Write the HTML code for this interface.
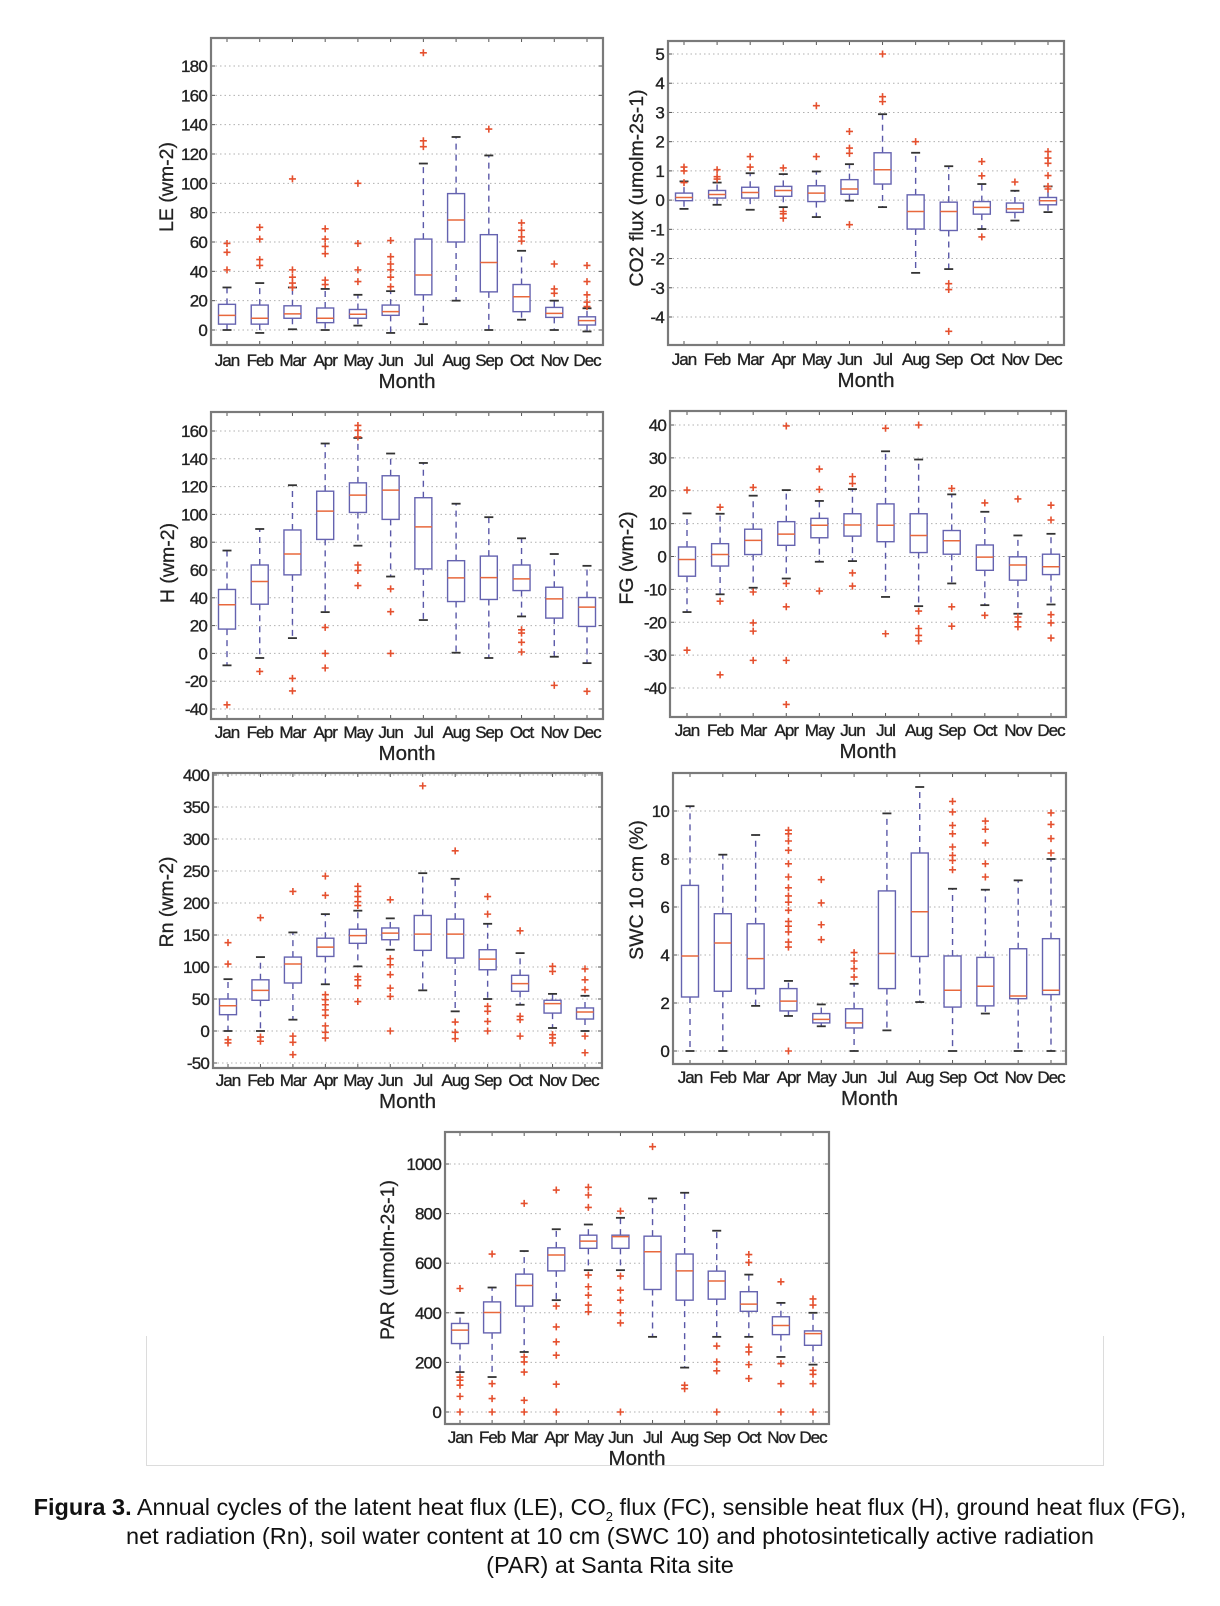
<!DOCTYPE html>
<html><head><meta charset="utf-8">
<style>
html,body{margin:0;padding:0;background:#fff;}
body{width:1220px;height:1606px;position:relative;overflow:hidden;font-family:"Liberation Sans",Arial,sans-serif;}
#fig{position:absolute;left:0;top:0;}
.caption{position:absolute;left:0;width:1220px;text-align:center;font-size:23.5px;color:#111;line-height:29px;top:1493px;white-space:nowrap;}
.caption sub{font-size:13px;line-height:0;vertical-align:0;position:relative;top:6px;}
</style></head>
<body>
<svg id="fig" width="1220" height="1606" xmlns="http://www.w3.org/2000/svg">
  <path d="M146.5 1336 V1465.5 H1103.5 V1336" fill="none" stroke="#dcdcdc" stroke-width="1"/>
</svg>
<div class="caption"><b>Figura 3.</b> Annual cycles of the latent heat flux (LE), CO<sub>2</sub> flux (FC), sensible heat flux (H), ground heat flux (FG),<br>net radiation (Rn), soil water content at 10 cm (SWC 10) and photosintetically active radiation<br>(PAR) at Santa Rita site</div>
<script>
const months=["Jan","Feb","Mar","Apr","May","Jun","Jul","Aug","Sep","Oct","Nov","Dec"];

// LE
const leLow=[0,-2,0.5,0,3,-2,4,20,0,7,0,-1];
const leQ1=[4,4,8,5,8,10,24,60,26,12.5,8.6,3.4];
const leMed=[10,8,11,8,10.7,12.5,37.5,75,46,22.7,11.3,6.4];
const leQ3=[17.5,17,16.5,15,14,17,62,93,65,31,15.4,9];
const leHigh=[29,32,29,28,24,26.5,113.5,131.6,119,54,20,14.8];
const leOut=[[59,53,41],[70,62,48,44],[103,41,36,32,29],[69,62,57,52,34,31],[100,59,41,33],[61,50,45,41,36,29.5],[189,129,125],[],[137],[73,68,63.5,60.6],[45,28,25],[44,33,24,19,16]];
const leTicks=[0,20,40,60,80,100,120,140,160,180];

// CO2
const coLow=[-0.3,-0.16,-0.33,-0.24,-0.58,-0.02,-0.24,-2.49,-2.36,-0.99,-0.7,-0.41];
const coQ1=[-0.02,0.07,0.07,0.13,-0.05,0.2,0.55,-0.99,-1.04,-0.48,-0.42,-0.16];
const coMed=[0.09,0.19,0.26,0.33,0.24,0.38,1.04,-0.39,-0.39,-0.25,-0.3,-0.02];
const coQ3=[0.24,0.33,0.44,0.47,0.49,0.7,1.62,0.18,-0.07,-0.05,-0.1,0.09];
const coHigh=[0.64,0.6,0.92,0.89,0.98,1.23,2.94,1.62,1.16,0.55,0.32,0.47];
const coOut=[[1.13,1.0,0.6],[1.04,0.8,0.72],[1.49,1.13],[1.1,-0.39,-0.47,-0.62],[3.23,1.49],[2.35,1.78,1.6,-0.84],[5.0,3.54,3.37],[2.0],[-2.86,-3.06,-4.49],[1.32,0.83,-1.26],[0.62],[1.66,1.44,1.26,0.84,0.47,0.38]];
const coTicks=[-4,-3,-2,-1,0,1,2,3,4,5];

// H
const hLow=[-8.6,-3.3,11,29.7,77.5,55.3,24,0.5,-3.3,26.6,-2.4,-7];
const hQ1=[17.5,35.4,56.5,82,101.4,96.4,60.8,37.3,38.8,45.2,25.4,19.4];
const hMed=[35,51.7,71.5,102.4,113.9,117.5,91,54.3,54.5,53.6,39.2,33.3];
const hQ3=[46,63.6,88.8,116.7,122.7,127.8,112,66.7,70,63.6,47.6,40.2];
const hHigh=[74,89.5,121,151,155,143.8,137,107.7,98,82.8,71.5,63];
const hOut=[[-37],[-13],[-18,-27],[18.7,0,-10.5],[164,160.5,155.7,63.6,59.6,48.8],[46.4,30,0],[],[],[],[17,14.6,8,1],[-23],[-27.3]];
const hTicks=[-40,-20,0,20,40,60,80,100,120,140,160];

// FG
const fgLow=[-16.9,-11.5,-9.5,-6.7,-1.6,-1.4,-12.3,-15.1,-8.2,-14.8,-17.4,-14.6];
const fgQ1=[-6,-2.9,0.6,3.4,5.7,6.2,4.5,1.2,0.7,-4.2,-7.2,-5.5];
const fgMed=[-0.9,0.6,4.9,6.8,9.5,9.6,9.5,6.4,4.8,-0.2,-2.6,-3.1];
const fgQ3=[2.9,3.9,8.3,10.6,11.6,13,16,13,7.9,3.5,-0.1,0.7];
const fgHigh=[13.1,13,18.5,20.2,16.9,20.5,32,29.5,18.9,13.6,6.4,6.9];
const fgOut=[[20.2,-28.5],[15,-13.6,-36],[21,-10.8,-20.2,-22.7,-31.6],[39.7,-8.2,-15.3,-31.6,-45],[26.6,20.4,-10.5],[24.3,22.2,-5,-9],[39,-23.5],[40,-16.6,-21.9,-24,-25.7],[20.7,-15.3,-21.2],[16.3,-17.9],[17.5,-18.4,-19.9,-21.4],[15.6,11.1,-17.7,-20.2,-24.8]];
const fgTicks=[-40,-30,-20,-10,0,10,20,30,40];

// Rn
const rnLow=[0,0,17.7,73,101,127,63.5,30.7,50,41,4.7,0];
const rnQ1=[25.5,48,75,116.5,137,142.6,126,114,95.7,62,28,18.7];
const rnMed=[39.5,63.5,104.6,131,149,153,151.4,151.4,112.4,74,42.7,29.7];
const rnQ3=[50,80,115.5,145,159,161,180.5,174.8,127,87,48,36];
const rnHigh=[81,115.5,154,182.6,188,176,246.6,237.8,167.5,121.7,58,55];
const rnOut=[[138,104.6,-13.5,-18.7],[177,-9.4,-16],[218,-8,-17.7,-37],[242,212,56.7,49,41,33,24.5,8,-2,-11],[226,218,210,202,196,85,80,70.8,46],[205,113,103.5,88,67,54,0],[383],[281.5,14,-2,-12],[210,182.6,38.5,30.7,15,0],[156.6,23,17.7,-8],[101,93,-5.7,-11,-18.7],[97,80,64.5,-8,-34]];
const rnTicks=[-50,0,50,100,150,200,250,300,350,400];

// SWC
const swLow=[0,0,1.88,1.46,1.03,0,0.86,2.04,0,1.56,0,0];
const swQ1=[2.25,2.49,2.6,1.67,1.17,0.96,2.6,3.94,1.83,1.88,2.18,2.35];
const swMed=[3.96,4.5,3.85,2.08,1.32,1.17,4.06,5.8,2.53,2.7,2.29,2.53];
const swQ3=[6.9,5.72,5.3,2.6,1.56,1.76,6.67,8.25,3.96,3.9,4.26,4.68];
const swHigh=[10.2,8.18,9.0,2.92,1.94,2.8,9.9,11,6.76,6.72,7.11,8.0];
const swOut=[[],[],[],[9.2,9.05,8.75,8.36,7.8,7.25,6.8,6.46,6.2,5.86,5.4,5.2,4.96,4.54,4.33,0],[7.14,6.17,5.26,4.64],[4.1,3.75,3.43,3.08],[],[],[10.4,9.96,9.4,9.05,8.5,8.15,7.94,7.55],[9.58,9.24,8.67,7.8,7.25],[],[9.92,9.44,8.85,8.25]];
const swTicks=[0,2,4,6,8,10];

// PAR
const parLow=[161,141,242,451,572,572,303,179,303,303,222,191];
const parQ1=[276,319,427,569,660,660,494,451,455,406,312,269];
const parMed=[330,401,510,633,689,707,646,569,528,435,349,316];
const parQ3=[357,444,556,662,713,713,709,637,568,485,384,327];
const parHigh=[400,502,649,737,756,783,861,884,731,554,440,400];
const parOut=[[498,141,128,108,63,0],[637,114,54,0],[841,222,202,161,47,0],[895,427,343,283,229,112,0],[906,875,825,552,505,471,431,404],[810,548,491,451,400,359,0],[1070],[108,94],[266,202,166,0],[635,603,262,242,191,135],[525,195,114,0],[456,431,168,152,114,0]];
const parTicks=[0,200,400,600,800,1000];

const NS="http://www.w3.org/2000/svg";
const svg=document.getElementById("fig");
function mk(tag,attrs,parent){const e=document.createElementNS(NS,tag);for(const k in attrs)e.setAttribute(k,attrs[k]);(parent||svg).appendChild(e);return e;}
const FONT="Liberation Sans, Arial, sans-serif";

function drawPanel(c){
  const g=mk("g",{});
  
  
  const yS=v=>c.pA+(v-c.vA)*(c.pB-c.pA)/(c.vB-c.vA);
  const xS=i=>c.jan+i*(c.dec-c.jan)/11;
  c.ticks.forEach(t=>{
    const y=yS(t);
    const gl=mk("line",{x1:c.x1,x2:c.x2,y1:y,y2:y,stroke:"#b0b0b0","stroke-width":1,"stroke-dasharray":"1.5,3"},g);
    
    
    const tl=mk("text",{x:c.x1-4,y:y+6,"text-anchor":"end","font-size":17,fill:"#222",stroke:"#222","stroke-width":0.35,"font-family":FONT,"letter-spacing":"-0.8"},g);
    tl.textContent=t;
    
    
    mk("line",{x1:c.x1,x2:c.x1+4,y1:y,y2:y,stroke:"#555","stroke-width":1},g);
    mk("line",{x1:c.x2-4,x2:c.x2,y1:y,y2:y,stroke:"#555","stroke-width":1},g);
  });
  months.forEach((m,i)=>{
    const x=xS(i);
    mk("line",{x1:x,x2:x,y1:c.y2,y2:c.y2-4,stroke:"#555","stroke-width":1},g);
    mk("line",{x1:x,x2:x,y1:c.y1,y2:c.y1+4,stroke:"#555","stroke-width":1},g);
    const ml=mk("text",{x:x,y:c.tlY,"text-anchor":"middle","font-size":17,fill:"#222",stroke:"#222","stroke-width":0.35,"font-family":FONT,"letter-spacing":"-1"},g);
    ml.textContent=m;
    
    
  });
  const hw=8.5;
  for(let i=0;i<12;i++){
    const x=xS(i);
    const bg=mk("g",{},g);
    
    
    const yl=yS(c.lo[i]),y1=yS(c.q1[i]),ym=yS(c.med[i]),y3=yS(c.q3[i]),yh=yS(c.hi[i]);
    mk("line",{x1:x,x2:x,y1:y3,y2:yh,stroke:"#5a58a8","stroke-width":1.4,"stroke-dasharray":"6,5"},bg);
    mk("line",{x1:x,x2:x,y1:y1,y2:yl,stroke:"#5a58a8","stroke-width":1.4,"stroke-dasharray":"6,5"},bg);
    mk("line",{x1:x-4.5,x2:x+4.5,y1:yh,y2:yh,stroke:"#333","stroke-width":1.8},bg);
    mk("line",{x1:x-4.5,x2:x+4.5,y1:yl,y2:yl,stroke:"#333","stroke-width":1.8},bg);
    mk("rect",{x:x-hw,y:y3,width:2*hw,height:Math.max(1,y1-y3),fill:"#fff",stroke:"#6563b0","stroke-width":1.4},bg);
    mk("line",{x1:x-hw,x2:x+hw,y1:ym,y2:ym,stroke:"#e8683c","stroke-width":1.5},bg);
    c.out[i].forEach(v=>{
      const y=yS(v);
      const o=mk("path",{d:`M${x-3.5} ${y}H${x+3.5}M${x} ${y-3.5}V${y+3.5}`,stroke:"#e5502e","stroke-width":1.6,fill:"none"},bg);
      
      
    });
  }
  const fr=mk("rect",{x:c.x1,y:c.y1,width:c.x2-c.x1,height:c.y2-c.y1,fill:"none",stroke:"#7a7a7a","stroke-width":2.2},g);
  
  
  const xt=mk("text",{x:(c.x1+c.x2)/2,y:c.tlY+22,"text-anchor":"middle","font-size":20.5,fill:"#222",stroke:"#222","stroke-width":0.3,"font-family":FONT},g);
  xt.textContent="Month";
  
  
  const yt=mk("text",{x:0,y:0,"text-anchor":"middle","font-size":19.5,fill:"#222",stroke:"#222","stroke-width":0.3,"font-family":FONT,transform:`translate(${c.ylx},${c.yly}) rotate(-90)`},g);
  yt.textContent=c.ylabel;
  
  
}

drawPanel({name:"le",x1:211,x2:603,y1:38,y2:345,vA:0,pA:330,vB:180,pB:66,jan:227,dec:587,ticks:leTicks,ylabel:"LE (wm-2)",ylx:173,yly:187,tlY:366,lo:leLow,q1:leQ1,med:leMed,q3:leQ3,hi:leHigh,out:leOut});
drawPanel({name:"co2",x1:668,x2:1064,y1:41,y2:345,vA:5,pA:54,vB:-4,pB:317,jan:684,dec:1048,ticks:coTicks,ylabel:"CO2 flux (umolm-2s-1)",ylx:643,yly:188,tlY:365,lo:coLow,q1:coQ1,med:coMed,q3:coQ3,hi:coHigh,out:coOut});
drawPanel({name:"h",x1:211,x2:603,y1:412,y2:719,vA:160,pA:431,vB:-40,pB:709,jan:227,dec:587,ticks:hTicks,ylabel:"H (wm-2)",ylx:174,yly:563,tlY:738,lo:hLow,q1:hQ1,med:hMed,q3:hQ3,hi:hHigh,out:hOut});
drawPanel({name:"fg",x1:670,x2:1066,y1:411,y2:717,vA:40,pA:425,vB:-40,pB:688,jan:687,dec:1051,ticks:fgTicks,ylabel:"FG (wm-2)",ylx:633,yly:558,tlY:736,lo:fgLow,q1:fgQ1,med:fgMed,q3:fgQ3,hi:fgHigh,out:fgOut});
drawPanel({name:"rn",x1:213,x2:602,y1:773,y2:1068,vA:400,pA:775,vB:-50,pB:1063,jan:228,dec:585,ticks:rnTicks,ylabel:"Rn (wm-2)",ylx:173,yly:902,tlY:1086,lo:rnLow,q1:rnQ1,med:rnMed,q3:rnQ3,hi:rnHigh,out:rnOut});
drawPanel({name:"swc",x1:673,x2:1066,y1:773,y2:1064,vA:10,pA:811,vB:0,pB:1051,jan:690,dec:1051,ticks:swTicks,ylabel:"SWC 10 cm (%)",ylx:643,yly:890,tlY:1083,lo:swLow,q1:swQ1,med:swMed,q3:swQ3,hi:swHigh,out:swOut});
drawPanel({name:"par",x1:445,x2:829,y1:1132,y2:1424,vA:1000,pA:1164,vB:0,pB:1412,jan:460,dec:813,ticks:parTicks,ylabel:"PAR (umolm-2s-1)",ylx:394,yly:1260,tlY:1443,lo:parLow,q1:parQ1,med:parMed,q3:parQ3,hi:parHigh,out:parOut});
</script>
</body></html>
